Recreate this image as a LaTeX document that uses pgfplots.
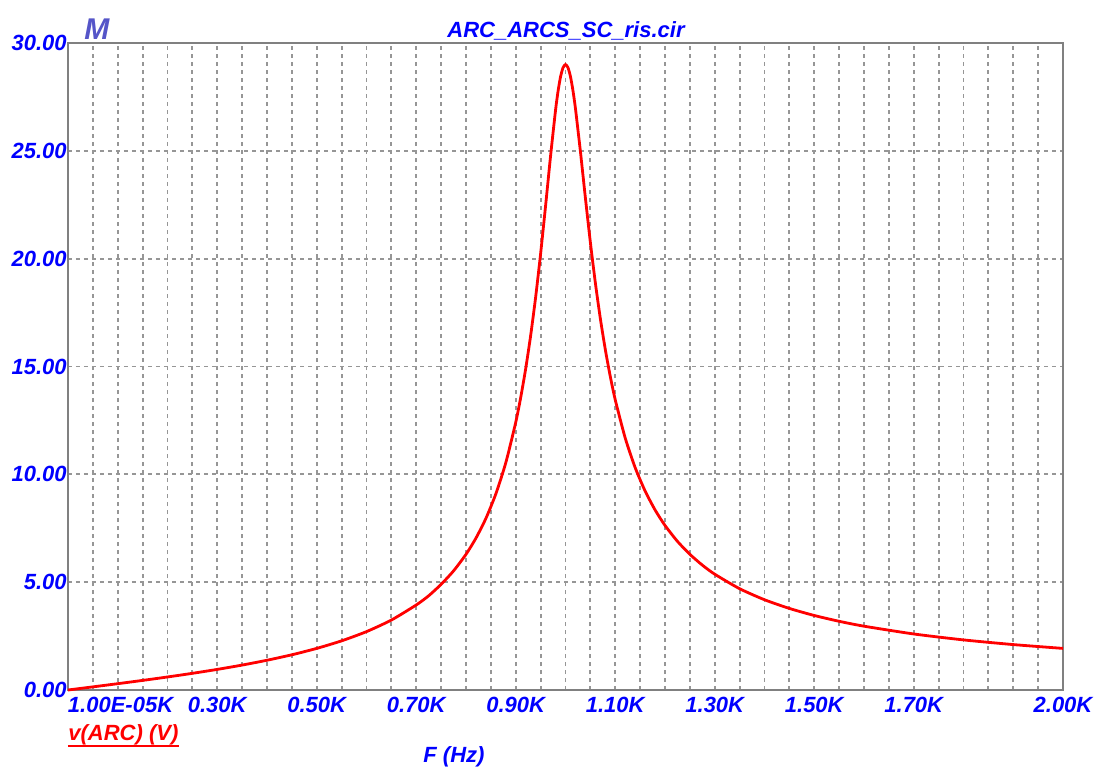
\documentclass[border=0pt]{standalone}
\usepackage{fontspec}
\setmainfont{Liberation Sans}
\usepackage{pgfplots}
\pgfplotsset{compat=1.18}
\definecolor{labelblue}{RGB}{0,0,255}
\definecolor{gridgray}{RGB}{128,128,128}
\definecolor{dashgray}{RGB}{150,150,150}
\definecolor{curvered}{RGB}{255,0,0}
\definecolor{mblue}{RGB}{85,85,200}
\newcommand{\lblfont}{\fontsize{11}{13}\selectfont\bfseries\itshape}

\begin{document}
\begin{tikzpicture}
\path[use as bounding box] (-34pt,-38pt) rectangle (514pt,345pt);
\begin{axis}[
  at={(0,0)}, anchor=south west,
  scale only axis, width=497.5pt, height=323.5pt,
  xmin=0, xmax=2000, ymin=0, ymax=30,
  clip=false,
  axis line style={draw=gridgray, line width=1pt},
  xtick={0,300,500,700,900,1100,1300,1500,1700,2000},
  xticklabels={\makebox[0pt][l]{1.00E-05K},0.30K,0.50K,0.70K,0.90K,1.10K,1.30K,1.50K,1.70K,2.00K},
  minor xtick={50,100,150,200,250,350,400,450,550,600,650,750,800,850,950,1000,1050,1150,1200,1250,1350,1400,1450,1550,1600,1650,1750,1800,1850,1900,1950},
  ytick={0,5,...,30},
  yticklabels={0.00,5.00,10.00,15.00,20.00,25.00,30.00},
  major tick length=0pt, minor tick length=0pt,
  grid=both,
  major grid style={draw=dashgray, line width=0.9pt, dash pattern=on 2pt off 2pt},
  minor grid style={draw=dashgray, line width=0.9pt, dash pattern=on 2pt off 2pt},
  tick label style={font=\lblfont, text=labelblue},
  xticklabel style={anchor=north, inner sep=0pt, yshift=-3.5pt},
  yticklabel style={anchor=east, inner sep=0pt, xshift=-0.5pt},
]
\addplot[curvered, line width=1.4pt, smooth, tension=0.4] coordinates {
  (0,0) (50,0.1454) (100,0.2929) (150,0.4450) (200,0.6040) (250,0.7731)
  (300,0.9555) (350,1.1558) (400,1.3794) (450,1.6338) (500,1.9291)
  (550,2.2797) (600,2.7069) (650,3.2436) (700,3.9435) (725,4.37) (750,4.9000)
  (775,5.524) (800,6.2910) (820,7.0418) (840,7.957) (860,9.0946)
  (880,10.539) (900,12.415) (910,13.568) (920,14.901) (930,16.443)
  (940,18.220) (950,20.238) (960,22.461) (970,24.765) (980,26.888)
  (985,27.760) (990,28.431) (995,28.855) (1000,29.0) (1005,28.856)
  (1010,28.443) (1015,27.793) (1020,26.962) (1030,24.963) (1040,22.815)
  (1050,20.751) (1060,18.879) (1070,17.227) (1080,15.788) (1090,14.540)
  (1100,13.456) (1120,11.685) (1140,10.313) (1160,9.228) (1180,8.351)
  (1200,7.630) (1225,6.893) (1250,6.291) (1275,5.791) (1300,5.369)
  (1350,4.697) (1400,4.185) (1450,3.782) (1500,3.455) (1550,3.186)
  (1600,2.959) (1700,2.598) (1800,2.323) (1900,2.106) (2000,1.929)
};
\node[anchor=base, inner sep=0pt, text=mblue, font=\fontsize{15}{17}\selectfont\bfseries\itshape]
  at (rel axis cs:0.029,1) [yshift=1.5pt] {M};
\node[anchor=base, inner sep=0pt, text=labelblue, font=\lblfont]
  at (rel axis cs:0.5005,1) [yshift=3pt] {ARC\_ARCS\_SC\_ris.cir};
\node[anchor=base west, inner sep=0pt, text=curvered, font=\lblfont]
  (vlab) at (rel axis cs:0,0) [yshift=-25pt] {v(ARC) (V)};
\draw[curvered, line width=1pt] ([yshift=-0.3pt]vlab.south west) -- ([yshift=-0.3pt]vlab.south east);
\node[anchor=base west, inner sep=0pt, text=labelblue, font=\lblfont]
  at (rel axis cs:0.3568,0) [yshift=-36pt] {F (Hz)};
\end{axis}
\end{tikzpicture}
\end{document}
